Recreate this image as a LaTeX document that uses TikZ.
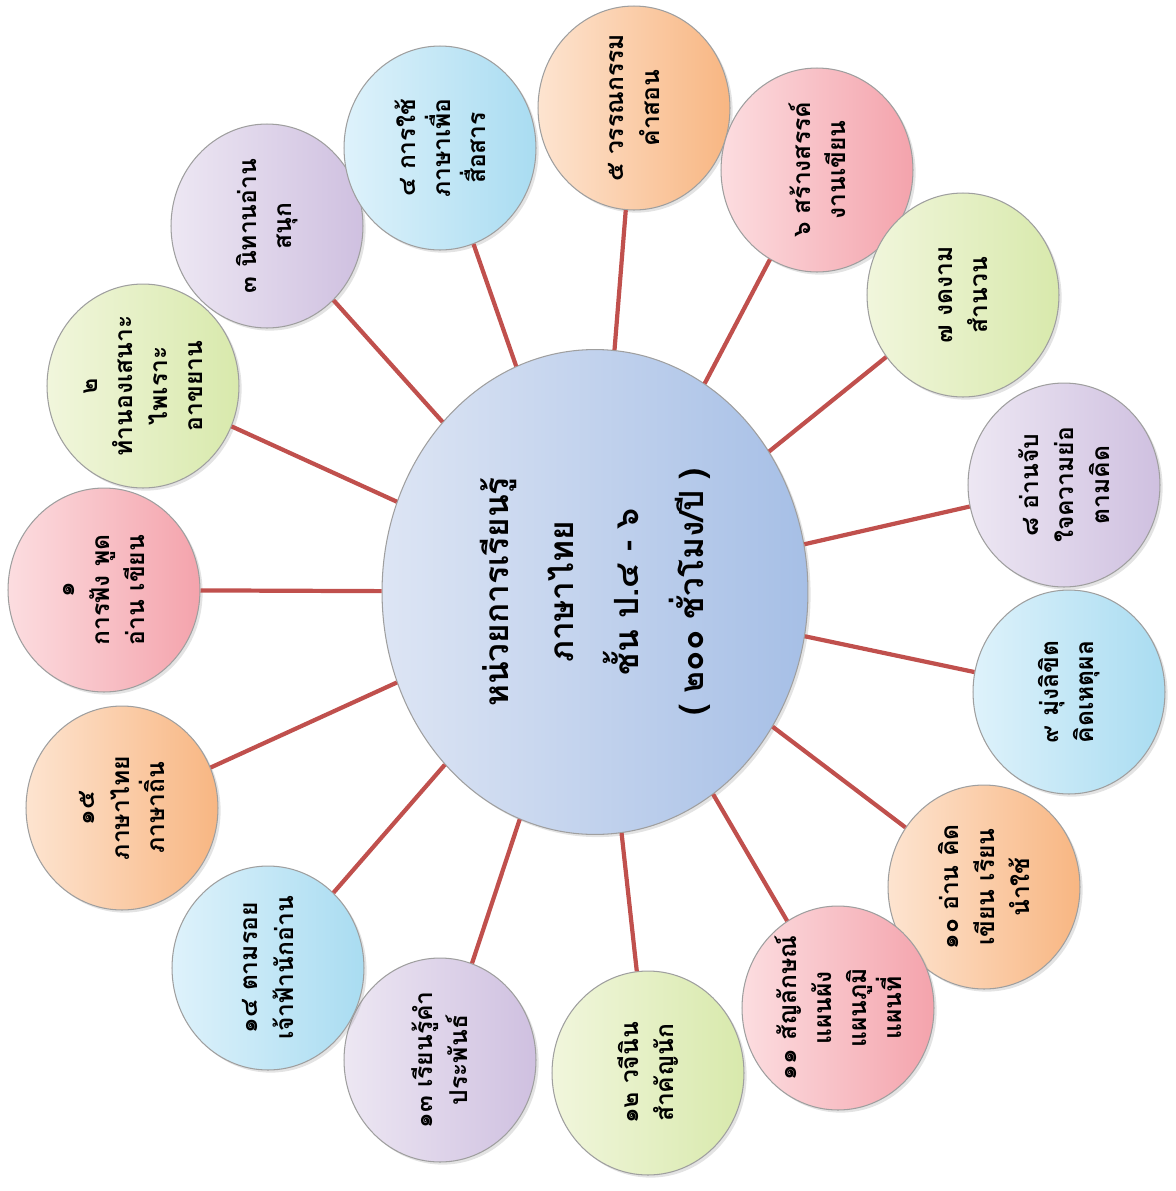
\documentclass[tikz,border=0pt]{standalone}
\usepackage{fontspec}
\newfontfamily\thaifont[Script=Thai]{Loma}
\usetikzlibrary{shapes.geometric}
\usetikzlibrary{shadows}

%% bubble colours, light (A) and dark (B) side
\definecolor{bubpinkA}{HTML}{FCDDE0}
\definecolor{bubpinkB}{HTML}{F4A3AC}
\definecolor{bubgreenA}{HTML}{F1F6DC}
\definecolor{bubgreenB}{HTML}{D8E9AC}
\definecolor{bubpurpleA}{HTML}{EDE7F3}
\definecolor{bubpurpleB}{HTML}{CFC0E0}
\definecolor{bubblueA}{HTML}{DEF2FB}
\definecolor{bubblueB}{HTML}{A9DCF1}
\definecolor{buborangeA}{HTML}{FDE4D0}
\definecolor{buborangeB}{HTML}{F8B682}
\definecolor{hubA}{HTML}{DDE5F4}
\definecolor{hubB}{HTML}{A6BFE6}
\definecolor{linkred}{HTML}{C0504D}

\tikzset{
  bubble/.style={ellipse, draw=gray!75, line width=0.6pt,
    minimum width=3.84cm, minimum height=4.08cm, inner sep=0pt,
    drop shadow={opacity=0.22,shadow xshift=1.5pt,shadow yshift=-1.5pt}},
  bubbletext/.style={rotate=90, align=center,
    font=\thaifont\bfseries\fontsize{14}{20}\selectfont},
  hub/.style={ellipse, draw=gray!75, line width=0.6pt,
    minimum width=8.52cm, minimum height=9.7cm, inner sep=0pt,
    left color=hubA, right color=hubB,
    drop shadow={opacity=0.22,shadow xshift=1.5pt,shadow yshift=-1.5pt}},
  hubtext/.style={rotate=90, align=center,
    font=\thaifont\bfseries\fontsize{19}{37}\selectfont},
  link/.style={draw=linkred, line width=2.4pt},
}

\begin{document}
\begin{tikzpicture}[x=0.02cm,y=-0.02cm]

  \useasboundingbox (0,0) rectangle (1176,1191);

  %% the centre
  \node[hub, label={[hubtext]center:หน่วยการเรียนรู้\\ภาษาไทย\\ชั้น ป.๔ - ๖\\( ๒๐๐ ชั่วโมง/ปี )}]
    (hub) at (595,592) {};

  %% the fifteen bubbles round it
  \foreach \n/\x/\y/\col/\txt in {
      1/104/590/pink/{๑\\การฟัง พูด\\อ่าน เขียน},
      2/143/386/green/{๒\\ทำนองเสนาะ\\ไพเราะ\\อาขยาน},
      3/267/226/purple/{๓ นิทานอ่าน\\สนุก},
      4/440/148/blue/{๔ การใช้\\ภาษาเพื่อ\\สื่อสาร},
      5/634/108/orange/{๕ วรรณกรรม\\คำสอน},
      6/817/170/pink/{๖ สร้างสรรค์\\งานเขียน},
      7/963/295/green/{๗ งดงาม\\สำนวน},
      8/1064/485/purple/{๘ อ่านจับ\\ใจความย่อ\\ตามคิด},
      9/1069/692/blue/{๙ มุ่งลิขิต\\คิดเหตุผล},
      10/984/887/orange/{๑๐ อ่าน คิด\\เขียน เรียน\\นำใช้},
      11/838/1008/pink/{๑๑ สัญลักษณ์\\แผนผัง\\แผนภูมิ\\แผนที่},
      12/648/1073/green/{๑๒ วจีนิน\\สำคัญนัก},
      13/440/1060/purple/{๑๓ เรียนรู้คำ\\ประพันธ์},
      14/268/968/blue/{๑๔ ตามรอย\\เจ้าฟ้านักอ่าน},
      15/122/808/orange/{๑๕\\ภาษาไทย\\ภาษาถิ่น}}
  {
    \node[bubble, left color=bub\col A, right color=bub\col B,
          label={[bubbletext]center:\txt}] (b\n) at (\x,\y) {};
  }

  %% spokes
  \foreach \n in {1,...,15}
    \draw[link] (hub) -- (b\n);

\end{tikzpicture}
\end{document}
